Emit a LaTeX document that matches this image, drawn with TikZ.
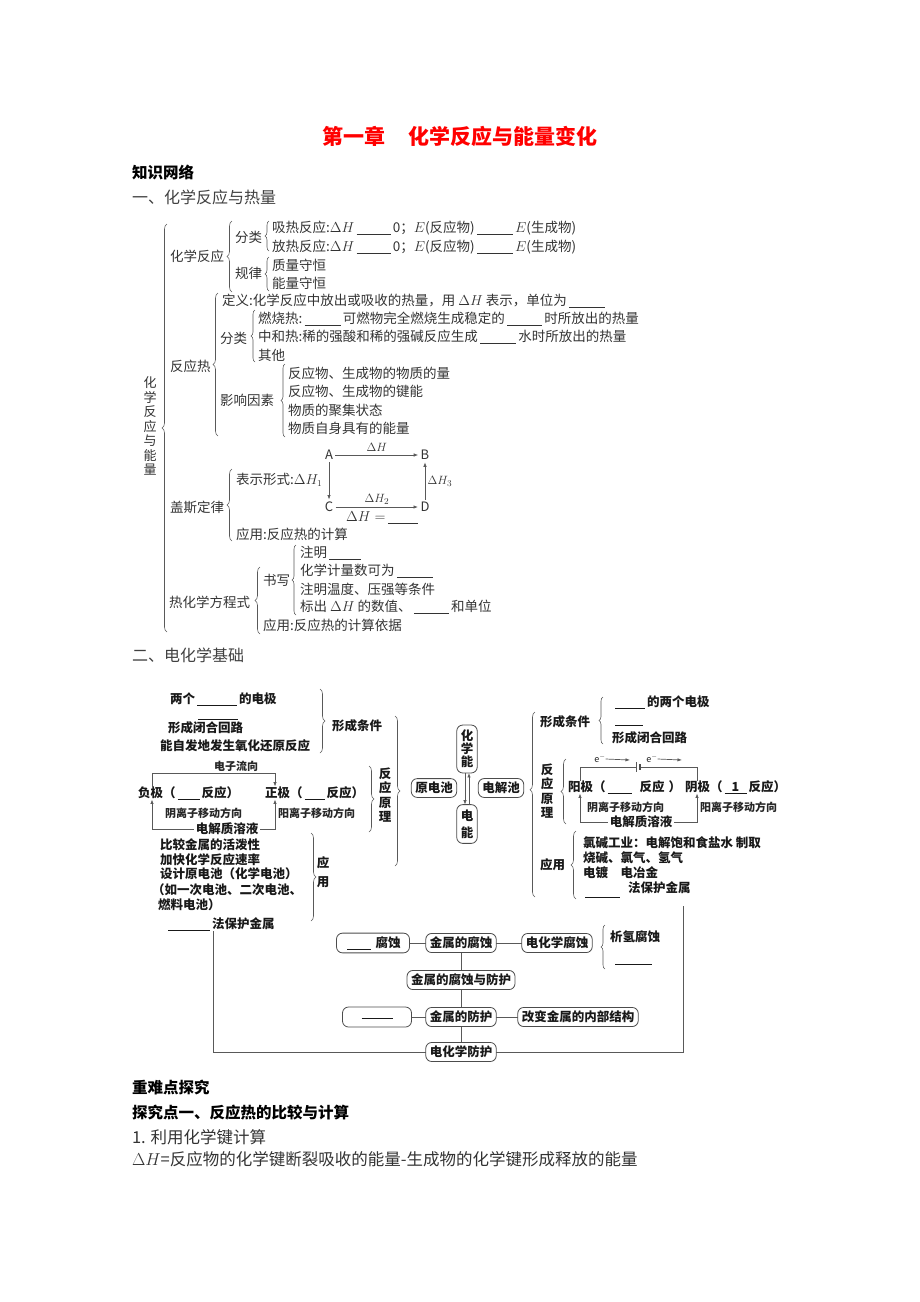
\documentclass[tikz,border=0pt]{standalone}
\usepackage{fontspec}
\setmainfont{Noto Sans CJK SC}
\usetikzlibrary{arrows.meta,decorations.pathreplacing,positioning}

\begin{document}
\begin{tikzpicture}[x=1pt,y=-1pt,
	every node/.style={inner sep=0pt,outer sep=0pt},
	txt/.style={anchor=west,text=black!80,font=\fontsize{13.5}{14}\selectfont},
	vtxt/.style={align=center,text=black!80,font=\fontsize{13}{14.5}\selectfont},
	bld/.style={anchor=west,text=black!90,font=\bfseries\fontsize{12.5}{14}\selectfont},
	vbld/.style={align=center,text=black!90,font=\bfseries\fontsize{12.5}{14.5}\selectfont},
	sml/.style={anchor=west,text=black!85,font=\bfseries\fontsize{11}{12}\selectfont},
	ptnode/.style={inner sep=2.5pt,text=black!80,font=\fontsize{13}{13}\selectfont},
	cellbox/.style={draw=black!70,line width=0.8pt,rounded corners=6pt,inner xsep=4pt,inner ysep=3.5pt,text=black!90,font=\bfseries\fontsize{12.5}{13}\selectfont},
	curly/.style={decorate,decoration={brace,amplitude=#1},draw=black!65,line width=0.6pt},
	curly/.default=5pt,
	wire/.style={draw=black!65,line width=0.7pt},
	arr/.style={-{Latex[length=4.5pt,width=3.4pt]}}]
			\newcommand{\myblank}[1]{\,\rule[-2pt]{#1}{0.5pt}\,}
			\useasboundingbox (0,0) rectangle (920,1302);
			%Title
			\node [text=red,font=\bfseries\fontsize{21}{21}\selectfont] (title) at (460,136) {第一章\hspace{1.1em}化学反应与能量变化};
			\node [anchor=west,font=\bfseries\fontsize{15.5}{16}\selectfont] (zswl) at (132,172) {知识网络};
			\node [anchor=west,text=black!75,font=\fontsize{16}{16}\selectfont] (sec1) at (132,197) {一、化学反应与热量};
			%Part one: the root
			\node [vtxt] (root) at (150,426) {化\\学\\反\\应\\与\\能\\量};
			\draw [curly] (167,632) -- (167,224);
			%Chemical reaction
			\node [txt] (hxfy) at (170,256) {化学反应};
			\draw [curly] (232,292) -- (232,221);
			\node [txt] (fl1) at (235,237) {分类};
			\draw [curly=4pt] (269,251) -- (269,221);
			\node [txt] (xrfy) at (272,228) {吸热反应:$\Delta H$\myblank{34pt}0；$E$(反应物)\myblank{36pt}$E$(生成物)};
			\node [txt] (frfy) at (272,247) {放热反应:$\Delta H$\myblank{34pt}0；$E$(反应物)\myblank{36pt}$E$(生成物)};
			\node [txt] (gl) at (235,273) {规律};
			\draw [curly=4pt] (269,291) -- (269,257);
			\node [txt] (zlsh) at (272,265) {质量守恒};
			\node [txt] (nlsh) at (272,283) {能量守恒};
			%Reaction heat
			\node [txt] (fyr) at (170,366) {反应热};
			\draw [curly] (218,436) -- (218,293);
			\node [txt] (dy) at (222,301) {定义:化学反应中放出或吸收的热量，用 $\Delta H$ 表示，单位为\myblank{36pt}};
			\node [txt] (fl2) at (220,338) {分类};
			\draw [curly=4pt] (255,362) -- (255,310);
			\node [txt] (rsr) at (258,319) {燃烧热:\myblank{36pt}可燃物完全燃烧生成稳定的\myblank{35pt}时所放出的热量};
			\node [txt] (zhr) at (258,337) {中和热:稀的强酸和稀的强碱反应生成\myblank{36pt}水时所放出的热量};
			\node [txt] (qt) at (258,355) {其他};
			\node [txt] (yxys) at (220,400) {影响因素};
			\draw [curly=4pt] (285,437) -- (285,364);
			\node [txt] (ys1) at (288,373) {反应物、生成物的物质的量};
			\node [txt] (ys2) at (288,391) {反应物、生成物的键能};
			\node [txt] (ys3) at (288,410) {物质的聚集状态};
			\node [txt] (ys4) at (288,428) {物质自身具有的能量};
			%Hess law
			\node [txt] (gsdl) at (170,507) {盖斯定律};
			\draw [curly] (232,541) -- (232,469);
			\node [txt] (bsxs) at (236,480) {表示形式:$\Delta H_1$};
			\node [ptnode] (ptA) at (329,455) {$\mathrm{A}$};
			\node [ptnode] (ptB) at (425,455) {$\mathrm{B}$};
			\node [ptnode] (ptC) at (329,507) {$\mathrm{C}$};
			\node [ptnode] (ptD) at (425,507) {$\mathrm{D}$};
			\draw [wire,arr] (ptA) -- (ptB) node [midway,above=1pt,ptnode] (dh0) {$\Delta H$};
			\draw [wire,arr] (ptA) -- (ptC);
			\draw [wire,arr] (ptC) -- (ptD) node [midway,above=0pt,ptnode] (dh2) {$\Delta H_2$};
			\draw [wire,arr] (ptD) -- (ptB) node [midway,right=0pt,ptnode] (dh3) {$\Delta H_3$};
			\node [txt] (dhe) at (346,518) {$\Delta H=$\myblank{30pt}};
			\node [txt] (yy1) at (236,534) {应用:反应热的计算};
			%Thermochemical equation
			\node [txt] (rhx) at (169,602) {热化学方程式};
			\draw [curly] (260,634) -- (260,567);
			\node [txt] (sx) at (263,580) {书写};
			\draw [curly=4pt] (296,615) -- (296,545);
			\node [txt] (sx1) at (300,553) {注明\myblank{32pt}};
			\node [txt] (sx2) at (300,571) {化学计量数可为\myblank{36pt}};
			\node [txt] (sx3) at (300,589) {注明温度、压强等条件};
			\node [txt] (sx4) at (300,607) {标出 $\Delta H$ 的数值、\myblank{35pt}和单位};
			\node [txt] (yy2) at (263,625) {应用:反应热的计算依据};
			%Part two
			\node [anchor=west,text=black!75,font=\fontsize{16}{16}\selectfont] (sec2) at (132,655) {二、电化学基础};
			%Galvanic cell: conditions
			\node [bld] (lc1) at (170,699) {两个\myblank{40pt}的电极};
			\node [bld] (lc2) at (198,719) {\rule{40pt}{0.6pt}};
			\node [bld] (lc3) at (168,728) {形成闭合回路};
			\node [bld] (lc4) at (160,746) {能自发地发生氧化还原反应};
			\draw [curly] (320,689) -- (320,753);
			\node [bld] (lxc) at (332,726) {形成条件};
			\draw [curly] (395,716) -- (395,866);
			%Centre boxes
			\node [cellbox] (ydc) at (434,788) {原电池};
			\node [cellbox,align=center,inner ysep=5pt] (hxn) at (467,749) {化\\学\\能};
			\node [cellbox,align=center,inner ysep=5pt,font=\bfseries\fontsize{12.5}{17}\selectfont] (dn) at (467,824) {电\\能};
			\node [cellbox] (djc) at (501,788) {电解池};
			\draw [wire,arr] ([xshift=-2pt]hxn.south) -- ([xshift=-2pt]dn.north);
			\draw [wire,arr] ([xshift=2pt]dn.north) -- ([xshift=2pt]hxn.south);
			%Galvanic cell: principle
			\node [bld] (fj) at (138,793) {负极（\myblank{22pt}反应）};
			\node [bld] (zj) at (265,793) {正极（\myblank{20pt}反应）};
			\node [sml,anchor=south] (dzlx) at (236,772) {电子流向};
			\draw [wire,arr] ([xshift=14pt]fj.north west) -- ++(0,-13) -| ([xshift=10pt]zj.north west);
			\node [sml] (yinl1) at (165,813) {阴离子移动方向};
			\node [sml] (yangl1) at (278,813) {阳离子移动方向};
			\node [bld,anchor=center,inner xsep=2pt] (djz1) at (227,829) {电解质溶液};
			\draw [wire,arr] (djz1.west) -| ([xshift=14pt]fj.south west);
			\draw [wire,arr] (djz1.east) -| ([xshift=10pt]zj.south west);
			\draw [curly] (369,766) -- (369,832);
			\node [vbld] (fyyl1) at (385,795) {反\\应\\原\\理};
			%Galvanic cell: uses
			\node [bld] (ap1) at (160,845) {比较金属的活泼性};
			\node [bld] (ap2) at (160,860) {加快化学反应速率};
			\node [bld] (ap3) at (160,874) {设计原电池（化学电池）};
			\node [bld] (ap4) at (152,890) {（如一次电池、二次电池、};
			\node [bld] (ap5) at (158,905) {燃料电池）};
			\node [bld] (ap6) at (166,924) {\myblank{42pt}法保护金属};
			\draw [curly] (311,833) -- (311,921);
			\node [vbld,font=\bfseries\fontsize{12.5}{19}\selectfont] (yy3) at (323,872) {应\\用};
			%Electrolytic cell: conditions
			\draw [curly,decoration={brace,amplitude=5pt,aspect=0.58}] (535,897) -- (535,712);
			\node [bld] (rxc) at (540,722) {形成条件};
			\draw [curly=4pt] (603,744) -- (603,697);
			\node [bld] (rc1) at (613,702) {\myblank{30pt}的两个电极};
			\node [bld] (rc2) at (615,725) {\rule{28pt}{0.6pt}};
			\node [bld] (rc3) at (612,738) {形成闭合回路};
			%Electrolytic cell: principle
			\node [vbld] (fyyl2) at (547,791) {反\\应\\原\\理};
			\draw [curly] (566,824) -- (566,759);
			\node [bld] (yj) at (568,787) {阳极（\myblank{24pt}\hspace{6pt}反应\hspace{4pt}）};
			\node [bld] (yinj) at (685,787) {阴极（\hspace{2pt}\rlap{\rule[-2pt]{22pt}{0.5pt}}\makebox[22pt]{1}\hspace{2pt}反应）};
			\coordinate (bat1) at (636,767);
			\coordinate (bat2) at (640,767);
			\draw [wire] ([xshift=12pt]yj.north west) |- (bat1);
			\draw [wire] (bat2) -| ([xshift=12pt]yinj.north west);
			\draw [wire] ([yshift=5pt]bat1) -- ([yshift=-5pt]bat1);
			\draw [draw=black!70,line width=1.6pt] ([yshift=3pt]bat2) -- ([yshift=-3pt]bat2);
			\node [sml,anchor=center,font=\fontsize{9}{9}\selectfont] (el1) at (600,759) {e$^-$};
			\node [sml,anchor=center,font=\fontsize{9}{9}\selectfont] (el2) at (652,759) {e$^-$};
			\coordinate (el1e) at (630,760);
			\coordinate (el2e) at (682,760);
			\draw [wire,arr] (el1.east) -- (el1e);
			\draw [wire,arr] (el2.east) -- (el2e);
			\node [sml] (yinl2) at (587,807) {阴离子移动方向};
			\node [sml] (yangl2) at (700,807) {阳离子移动方向};
			\node [bld,anchor=center,inner xsep=2pt] (djz2) at (641,822) {电解质溶液};
			\draw [wire,arr] (djz2.west) -| ([xshift=12pt]yj.south west);
			\draw [wire,arr] (djz2.east) -| ([xshift=12pt]yinj.south west);
			%Electrolytic cell: uses
			\node [bld] (yy4) at (540,865) {应用};
			\draw [curly] (576,899) -- (576,831);
			\node [bld] (ra1) at (583,843) {氯碱工业：电解饱和食盐水 制取};
			\node [bld] (ra2) at (583,858) {烧碱、氯气、氢气};
			\node [bld] (ra3) at (583,873) {电镀\hspace{1em}电冶金};
			\node [bld] (ra4) at (628,888) {法保护金属};
			\node [bld] (ra5) at (585,897) {\rule{35pt}{0.6pt}};
			%Corrosion and protection
			\node [cellbox,minimum width=73pt] (hxfs) at (373,943) {\myblank{24pt}\,腐蚀};
			\node [cellbox] (jfs) at (461,943) {金属的腐蚀};
			\node [cellbox] (dfs) at (557,943) {电化学腐蚀};
			\draw [wire] (hxfs) -- (jfs);
			\draw [wire] (jfs) -- (dfs);
			\draw [curly=4pt] (605,969) -- (605,925);
			\node [bld] (xqfs) at (610,937) {析氢腐蚀};
			\node [bld] (xqkb) at (615,964) {\rule{37pt}{0.6pt}};
			\node [cellbox] (jfsfh) at (461,980) {金属的腐蚀与防护};
			\node [cellbox,minimum width=69pt,minimum height=20pt] (kb) at (377,1017) {\myblank{31pt}};
			\node [cellbox] (jfh) at (461,1017) {金属的防护};
			\node [cellbox] (gb) at (578,1017) {改变金属的内部结构};
			\node [cellbox] (dhfh) at (461,1052) {电化学防护};
			\draw [wire] (jfs) -- (jfsfh);
			\draw [wire] (jfsfh) -- (jfh);
			\draw [wire] (jfh) -- (dhfh);
			\draw [wire] (kb) -- (jfh);
			\draw [wire] (jfh) -- (gb);
			\coordinate (ltop) at (213,931);
			\coordinate (rtop) at (683,906);
			\draw [wire] (ltop) |- (dhfh.west);
			\draw [wire] (rtop) |- (dhfh.east);
			%Key points
			\node [anchor=west,font=\bfseries\fontsize{15.5}{16}\selectfont] (zndtj) at (132,1088) {重难点探究};
			\node [anchor=west,font=\bfseries\fontsize{15.5}{16}\selectfont] (tjd1) at (132,1113) {探究点一、反应热的比较与计算};
			\node [anchor=west,text=black!80,font=\fontsize{16.5}{17}\selectfont] (lyjj) at (132,1137) {1. 利用化学键计算};
			\node [anchor=west,text=black!80,font=\fontsize{16.5}{17}\selectfont] (dhgs) at (132,1159) {$\Delta H$=反应物的化学键断裂吸收的能量-生成物的化学键形成释放的能量};
\end{tikzpicture}
\end{document}
